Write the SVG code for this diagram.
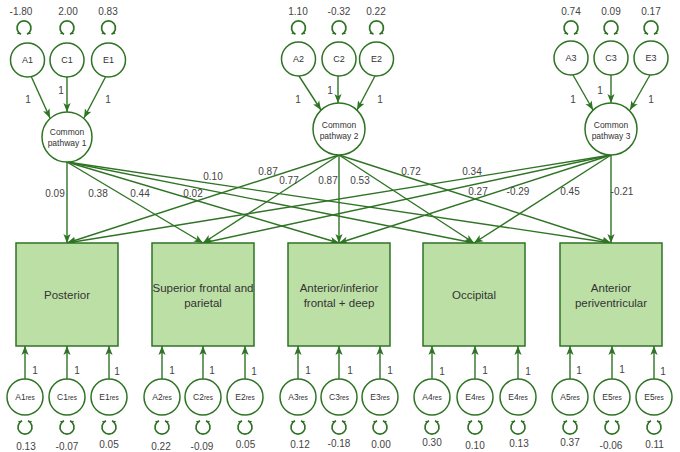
<svg xmlns="http://www.w3.org/2000/svg" width="680" height="452" viewBox="0 0 680 452">
<defs>
<style>
.c{fill:#fff;stroke:#2f7324;stroke-width:1.5}
.b{fill:#bcdfa6;stroke:#2f7324;stroke-width:1.5}
.e{fill:none;stroke:#2f7324;stroke-width:1.4;marker-end:url(#ah)}
.l{fill:none;stroke:#2f7324;stroke-width:1.7;marker-start:url(#sh);marker-end:url(#sh)}
.n{font-family:"Liberation Sans",Arial,sans-serif;font-size:10px;fill:#444;text-anchor:middle}
.t{font-family:"Liberation Sans",Arial,sans-serif;font-size:9px;fill:#333;text-anchor:middle}
.p{font-family:"Liberation Sans",Arial,sans-serif;font-size:8.5px;fill:#333;text-anchor:middle}
.r{font-family:"Liberation Sans",Arial,sans-serif;font-size:8.5px;fill:#333;text-anchor:middle}
.s{font-size:6.5px}
.x{font-family:"Liberation Sans",Arial,sans-serif;font-size:11.5px;fill:#333;text-anchor:middle}
</style>
<marker id="ah" viewBox="0 0 10 10" refX="10" refY="5" markerWidth="9" markerHeight="9" markerUnits="userSpaceOnUse" orient="auto"><path d="M0,1 L10,5 L0,9 L2.5,5 z" fill="#2f7324"/></marker>
<marker id="sh" viewBox="0 0 10 10" refX="10" refY="5" markerWidth="4" markerHeight="4" markerUnits="userSpaceOnUse" orient="auto-start-reverse"><path d="M0,0.5 L10,5 L0,9.5 L2,5 z" fill="#2f7324"/></marker>
<path id="lt" d="M-3,34.2 A7,7 0 1 1 3,34.2"/>
<path id="lb" d="M-3,420.8 A7,7 0 1 0 3,420.8"/>
</defs>
<rect width="680" height="452" fill="#fff"/>

<g id="connectors">
<path class="e" d="M31,76 L50,118"/>
<path class="e" d="M67,77 L67,112"/>
<path class="e" d="M106,76 L84,118"/>
<path class="e" d="M299,76 L321,110"/>
<path class="e" d="M338,76 L338,103"/>
<path class="e" d="M375,76 L357,110"/>
<path class="e" d="M573,75 L593,110"/>
<path class="e" d="M611,75 L611,103"/>
<path class="e" d="M650,75 L630,110"/>
<path class="e" d="M67,162 L67,243"/>
<path class="e" d="M67,162 L203,243"/>
<path class="e" d="M67,162 L339,243"/>
<path class="e" d="M67,162 L474,243"/>
<path class="e" d="M67,162 L611,243"/>
<path class="e" d="M339,155 L67,243"/>
<path class="e" d="M339,155 L203,243"/>
<path class="e" d="M339,155 L339,243"/>
<path class="e" d="M339,155 L474,243"/>
<path class="e" d="M339,155 L611,243"/>
<path class="e" d="M611,155 L67,243"/>
<path class="e" d="M611,155 L203,243"/>
<path class="e" d="M611,155 L339,243"/>
<path class="e" d="M611,155 L474,243"/>
<path class="e" d="M611,155 L611,243"/>
<path class="e" d="M25,379 L25,346"/>
<path class="e" d="M67,379 L67,346"/>
<path class="e" d="M109,379 L109,346"/>
<path class="e" d="M162,379 L162,346"/>
<path class="e" d="M203,379 L203,346"/>
<path class="e" d="M245,379 L245,346"/>
<path class="e" d="M298,379 L298,346"/>
<path class="e" d="M339,379 L339,346"/>
<path class="e" d="M380,379 L380,346"/>
<path class="e" d="M432,379 L432,346"/>
<path class="e" d="M475,379 L475,346"/>
<path class="e" d="M518,379 L518,346"/>
<path class="e" d="M570,379 L570,346"/>
<path class="e" d="M612,379 L612,346"/>
<path class="e" d="M654,379 L654,346"/>
<use class="l" href="#lt" x="24"/>
<use class="l" href="#lt" x="67"/>
<use class="l" href="#lt" x="108.5"/>
<use class="l" href="#lt" x="298.5"/>
<use class="l" href="#lt" x="339"/>
<use class="l" href="#lt" x="376.5"/>
<use class="l" href="#lt" x="571"/>
<use class="l" href="#lt" x="611"/>
<use class="l" href="#lt" x="651"/>
<use class="l" href="#lb" x="25"/>
<use class="l" href="#lb" x="67"/>
<use class="l" href="#lb" x="109"/>
<use class="l" href="#lb" x="162"/>
<use class="l" href="#lb" x="203"/>
<use class="l" href="#lb" x="245"/>
<use class="l" href="#lb" x="298"/>
<use class="l" href="#lb" x="339"/>
<use class="l" href="#lb" x="380"/>
<use class="l" href="#lb" x="432"/>
<use class="l" href="#lb" x="475"/>
<use class="l" href="#lb" x="518"/>
<use class="l" href="#lb" x="570"/>
<use class="l" href="#lb" x="612"/>
<use class="l" href="#lb" x="654"/>
</g>

<g id="labels">
<text class="n" x="21" y="15">-1.80</text>
<text class="n" x="68" y="15">2.00</text>
<text class="n" x="108" y="15">0.83</text>
<text class="n" x="298" y="15">1.10</text>
<text class="n" x="339" y="15">-0.32</text>
<text class="n" x="376" y="15">0.22</text>
<text class="n" x="571" y="15">0.74</text>
<text class="n" x="611" y="15">0.09</text>
<text class="n" x="651" y="15">0.17</text>
<text class="n" x="28" y="102.5">1</text>
<text class="n" x="61" y="93.5">1</text>
<text class="n" x="108" y="102.5">1</text>
<text class="n" x="298" y="102.5">1</text>
<text class="n" x="330" y="93.5">1</text>
<text class="n" x="380" y="102.5">1</text>
<text class="n" x="573" y="102.5">1</text>
<text class="n" x="600" y="93.5">1</text>
<text class="n" x="651" y="102.5">1</text>
<text class="n" x="55" y="196.5">0.09</text>
<text class="n" x="98" y="196.5">0.38</text>
<text class="n" x="140" y="196.5">0.44</text>
<text class="n" x="193" y="196.5">0.02</text>
<text class="n" x="213" y="179.5">0.10</text>
<text class="n" x="268" y="174.5">0.87</text>
<text class="n" x="289" y="183.5">0.77</text>
<text class="n" x="328" y="183.5">0.87</text>
<text class="n" x="360" y="183.5">0.53</text>
<text class="n" x="411" y="174.5">0.72</text>
<text class="n" x="472" y="174.5">0.34</text>
<text class="n" x="478" y="194.5">0.27</text>
<text class="n" x="518" y="194.5">-0.29</text>
<text class="n" x="570" y="194.5">0.45</text>
<text class="n" x="622" y="194.5">-0.21</text>
<text class="n" x="35" y="373.5">1</text>
<text class="n" x="77" y="373.5">1</text>
<text class="n" x="117" y="374.5">1</text>
<text class="n" x="172" y="373.5">1</text>
<text class="n" x="212" y="373.5">1</text>
<text class="n" x="254" y="374.5">1</text>
<text class="n" x="308" y="373.5">1</text>
<text class="n" x="350" y="373.5">1</text>
<text class="n" x="390" y="373.5">1</text>
<text class="n" x="442" y="374.5">1</text>
<text class="n" x="485" y="373.5">1</text>
<text class="n" x="528" y="374.5">1</text>
<text class="n" x="579" y="373.5">1</text>
<text class="n" x="622" y="372.5">1</text>
<text class="n" x="663" y="374.5">1</text>
<text class="n" x="26" y="449.5">0.13</text>
<text class="n" x="67" y="449.5">-0.07</text>
<text class="n" x="109" y="447.8">0.05</text>
<text class="n" x="161" y="449.5">0.22</text>
<text class="n" x="202" y="449.5">-0.09</text>
<text class="n" x="245.5" y="447.8">0.05</text>
<text class="n" x="300" y="447.8">0.12</text>
<text class="n" x="339" y="446.8">-0.18</text>
<text class="n" x="381" y="447.8">0.00</text>
<text class="n" x="432" y="446.2">0.30</text>
<text class="n" x="475" y="448.5">0.10</text>
<text class="n" x="519" y="446.8">0.13</text>
<text class="n" x="570" y="446.2">0.37</text>
<text class="n" x="611" y="448.5">-0.06</text>
<text class="n" x="654.5" y="447.8">0.11</text>
</g>

<g id="A1"><circle class="c" cx="27.5" cy="60" r="17"/><text class="t" x="27.5" y="63">A1</text></g>
<g id="C1"><circle class="c" cx="67" cy="60" r="17"/><text class="t" x="67" y="63">C1</text></g>
<g id="E1"><circle class="c" cx="108.5" cy="60" r="17"/><text class="t" x="108.5" y="63">E1</text></g>
<g id="A2"><circle class="c" cx="298.5" cy="59" r="17"/><text class="t" x="298.5" y="62">A2</text></g>
<g id="C2"><circle class="c" cx="339" cy="59" r="17"/><text class="t" x="339" y="62">C2</text></g>
<g id="E2"><circle class="c" cx="376.5" cy="59" r="17"/><text class="t" x="376.5" y="62">E2</text></g>
<g id="A3"><circle class="c" cx="571" cy="58" r="17"/><text class="t" x="571" y="61">A3</text></g>
<g id="C3"><circle class="c" cx="611" cy="58" r="17"/><text class="t" x="611" y="61">C3</text></g>
<g id="E3"><circle class="c" cx="651" cy="58" r="17"/><text class="t" x="651" y="61">E3</text></g>

<g id="CP1"><circle class="c" cx="67" cy="137" r="25"/><text class="p" x="67" y="134.5">Common</text><text class="p" x="67" y="145.5">pathway 1</text></g>
<g id="CP2"><circle class="c" cx="339" cy="129" r="26"/><text class="p" x="339" y="127.5">Common</text><text class="p" x="339" y="138.5">pathway 2</text></g>
<g id="CP3"><circle class="c" cx="611" cy="129" r="26"/><text class="p" x="611" y="127.5">Common</text><text class="p" x="611" y="138.5">pathway 3</text></g>

<g id="Posterior"><rect class="b" x="16" y="243" width="102" height="103"/><text class="x" x="67" y="299">Posterior</text></g>
<g id="SuperiorFrontal"><rect class="b" x="152" y="243" width="102" height="103"/><text class="x" x="203" y="292">Superior frontal and</text><text class="x" x="203" y="307">parietal</text></g>
<g id="AnteriorInferior"><rect class="b" x="288" y="243" width="102" height="103"/><text class="x" x="339" y="292">Anterior/inferior</text><text class="x" x="339" y="307">frontal + deep</text></g>
<g id="Occipital"><rect class="b" x="423" y="243" width="102" height="103"/><text class="x" x="474" y="299">Occipital</text></g>
<g id="AnteriorPeri"><rect class="b" x="560" y="243" width="102" height="103"/><text class="x" x="611" y="292">Anterior</text><text class="x" x="611" y="307">periventricular</text></g>

<g id="A1res"><circle class="c" cx="25" cy="397" r="18"/><text class="r" x="25" y="400">A1<tspan class="s">res</tspan></text></g>
<g id="C1res"><circle class="c" cx="67" cy="397" r="18"/><text class="r" x="67" y="400">C1<tspan class="s">res</tspan></text></g>
<g id="E1res"><circle class="c" cx="109" cy="397" r="18"/><text class="r" x="109" y="400">E1<tspan class="s">res</tspan></text></g>
<g id="A2res"><circle class="c" cx="162" cy="397" r="18"/><text class="r" x="162" y="400">A2<tspan class="s">res</tspan></text></g>
<g id="C2res"><circle class="c" cx="203" cy="397" r="18"/><text class="r" x="203" y="400">C2<tspan class="s">res</tspan></text></g>
<g id="E2res"><circle class="c" cx="245" cy="397" r="18"/><text class="r" x="245" y="400">E2<tspan class="s">res</tspan></text></g>
<g id="A3res"><circle class="c" cx="298" cy="397" r="18"/><text class="r" x="298" y="400">A3<tspan class="s">res</tspan></text></g>
<g id="C3res"><circle class="c" cx="339" cy="397" r="18"/><text class="r" x="339" y="400">C3<tspan class="s">res</tspan></text></g>
<g id="E3res"><circle class="c" cx="380" cy="397" r="18"/><text class="r" x="380" y="400">E3<tspan class="s">res</tspan></text></g>
<g id="A4res"><circle class="c" cx="432" cy="397" r="18"/><text class="r" x="432" y="400">A4<tspan class="s">res</tspan></text></g>
<g id="E4res-a"><circle class="c" cx="475" cy="397" r="18"/><text class="r" x="475" y="400">E4<tspan class="s">res</tspan></text></g>
<g id="E4res-b"><circle class="c" cx="518" cy="397" r="18"/><text class="r" x="518" y="400">E4<tspan class="s">res</tspan></text></g>
<g id="A5res"><circle class="c" cx="570" cy="397" r="18"/><text class="r" x="570" y="400">A5<tspan class="s">res</tspan></text></g>
<g id="E5res-a"><circle class="c" cx="612" cy="397" r="18"/><text class="r" x="612" y="400">E5<tspan class="s">res</tspan></text></g>
<g id="E5res-b"><circle class="c" cx="654" cy="397" r="18"/><text class="r" x="654" y="400">E5<tspan class="s">res</tspan></text></g>
</svg>
